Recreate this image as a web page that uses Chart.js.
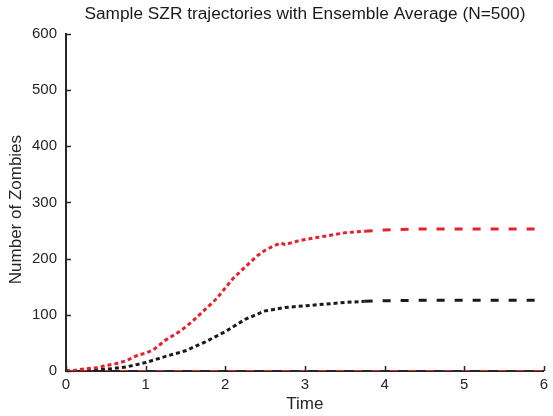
<!DOCTYPE html>
<html>
<head>
<meta charset="utf-8">
<script src="https://cdn.jsdelivr.net/npm/chart.js@4.4.1/dist/chart.umd.min.js"></script>
<style>
  html, body { margin: 0; padding: 0; background: #fff; }
  #wrap { width: 553px; height: 416px; }
</style>
</head>
<body>
<div id="wrap"><canvas id="graph_szr"></canvas></div>
<script>
// sample trajectory (red) and ensemble average (black)
const tRed = [0, 0.1, 0.25, 0.4, 0.5, 0.6, 0.75, 0.9, 1.0, 1.1, 1.25, 1.4, 1.5, 1.6, 1.75, 1.9, 2.0, 2.1, 2.25, 2.4, 2.5, 2.6, 2.7, 2.75, 2.9, 3.0, 3.25, 3.5, 3.75, 4.0, 4.5, 5.0, 5.5, 6.0];
const zRed = [0, 1, 4, 6, 10, 12, 18, 28, 32, 38, 55, 68, 78, 90, 110, 130, 148, 165, 185, 205, 215, 222, 228, 225, 231, 234, 240, 246, 249, 251, 253, 253, 253, 253];
const tAvg = [0, 0.25, 0.5, 0.75, 1.0, 1.25, 1.5, 1.75, 2.0, 2.25, 2.5, 2.75, 3.0, 3.25, 3.5, 3.75, 4.0, 4.5, 5.0, 5.5, 6.0];
const zAvg = [0, 1, 3, 7, 15, 26, 36, 52, 70, 92, 107, 113, 116, 119, 122, 124, 125, 126, 126, 126, 126];
const tZero = [0, 6];
const zZero = [0, 0];
const xTicks = [0, 1, 2, 3, 4, 5, 6];
const yTicks = [0, 100, 200, 300, 400, 500, 600];

function pts(t, z) {
    const out = [];
    for (let i = 0; i < t.length; i++) out.push({x: t[i], y: z[i]});
    return out;
}

const font = 'Liberation Sans, Arial, Helvetica, sans-serif';

// the noisy part looks dotted, the flat tail is plain dashes
const dashBySegment = {
    borderDash: ctx => ctx.p0.parsed.x < 3.6 ? [4, 3] : [8, 10]
};

// inward tick marks, matlab style
const innerTicks = {
    id: 'innerTicks',
    afterDraw(chart) {
        const ctx = chart.ctx;
        const xs = chart.scales.x, ys = chart.scales.y;
        const y0 = ys.getPixelForValue(0), x0 = xs.getPixelForValue(0);
        ctx.save();
        ctx.strokeStyle = '#262626';
        ctx.lineWidth = 1.5;
        ctx.beginPath();
        xTicks.forEach(v => {
            const px = Math.round(xs.getPixelForValue(v)) + 0.5;
            ctx.moveTo(px, y0);
            ctx.lineTo(px, y0 - 5);
        });
        yTicks.forEach(v => {
            const py = Math.round(ys.getPixelForValue(v)) + 0.5;
            ctx.moveTo(x0, py);
            ctx.lineTo(x0 + 5, py);
        });
        ctx.stroke();
        ctx.restore();
    }
};

const config = {
    type: 'line',
    data: {
        datasets: [{
            label: 'Sample',
            data: pts(tRed, zRed),
            borderColor: '#e8202a',
            borderWidth: 3,
            segment: dashBySegment,
            pointRadius: 0,
            tension: 0
        }, {
            label: 'Average',
            data: pts(tAvg, zAvg),
            borderColor: '#1a1a1a',
            borderWidth: 3,
            segment: dashBySegment,
            pointRadius: 0,
            tension: 0
        }, {
            label: 'Zero',
            data: pts(tZero, zZero),
            borderColor: '#e8202a',
            borderWidth: 2,
            borderDash: [8, 10],
            pointRadius: 0,
            tension: 0
        }]
    },
    options: {
        responsive: true,
        maintainAspectRatio: false,
        animation: false,
        layout: { padding: { left: 6, right: 8, top: 0, bottom: 1 } },
        scales: {
            x: {
                type: 'linear',
                min: 0,
                max: 6,
                afterFit(scale) { scale.height = 44; },
                grid: { display: false, drawTicks: false },
                border: { display: true, color: '#262626', width: 2 },
                ticks: {
                    stepSize: 1,
                    padding: 5,
                    color: '#262626',
                    font: { family: font, size: 15 }
                },
                title: {
                    display: true,
                    text: 'Time',
                    color: '#262626',
                    font: { family: font, size: 17 },
                    padding: { top: 0, bottom: 0 }
                }
            },
            y: {
                min: 0,
                max: 600,
                afterFit(scale) { scale.width = 60; },
                grid: { display: false, drawTicks: false },
                border: { display: true, color: '#262626', width: 2 },
                ticks: {
                    stepSize: 100,
                    padding: 9,
                    color: '#262626',
                    font: { family: font, size: 15 }
                },
                title: {
                    display: true,
                    text: 'Number of Zombies   ',
                    color: '#262626',
                    font: { family: font, size: 17 },
                    padding: { top: 0, bottom: 0 }
                }
            }
        },
        plugins: {
            legend: { display: false },
            tooltip: { enabled: false },
            title: {
                display: true,
                fullSize: false,
                text: 'Sample SZR trajectories with Ensemble Average (N=500)',
                color: '#1a1a1a',
                font: { family: font, size: 17.3, weight: 'normal' },
                padding: { top: 4, bottom: 9.2 }
            }
        }
    },
    plugins: [innerTicks]
};

const szr_chart = new Chart(document.getElementById('graph_szr'), config);
</script>
</body>
</html>
